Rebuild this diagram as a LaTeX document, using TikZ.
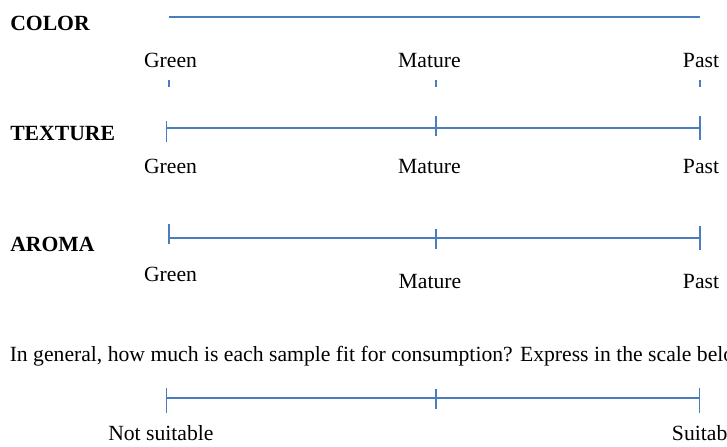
\documentclass[tikz,border=0pt]{standalone}
\usepackage{fontspec}
\setmainfont{Liberation Serif}
\usepackage{tikz}
\definecolor{scaleblue}{RGB}{74,125,190}

\begin{document}
\begin{tikzpicture}[x=0.75pt,y=-0.75pt]
	\tikzstyle{LabelStyle}=[inner sep=0pt,anchor=base,font=\fontsize{16.25}{19}\selectfont]
	\tikzstyle{HeadStyle}=[LabelStyle,anchor=base west,font=\fontsize{16.25}{19}\selectfont\bfseries]
	\tikzstyle{ScaleStyle}=[draw=scaleblue,line width=1.3pt]
	\tikzstyle{TickStyle}=[draw=scaleblue,line width=0.9pt]
	\useasboundingbox (0,0) rectangle (727,446);
	\clip (0,0) rectangle (727,446);

	% color
	\node[HeadStyle] (colHead) at (10,31) {COLOR};
	\coordinate (colL) at (169,17);
	\coordinate (colR) at (700,17);
	\draw[ScaleStyle] (colL) -- (colR);
	\node[LabelStyle] (colG) at (170.5,67) {Green};
	\node[LabelStyle] (colM) at (429.5,67) {Mature};
	\node[LabelStyle] (colP) at (701,67) {Past};
	\coordinate (colGt) at (169,80);  \coordinate (colGb) at (169,87);
	\coordinate (colMt) at (436,80);  \coordinate (colMb) at (436,87);
	\coordinate (colPt) at (700,80);  \coordinate (colPb) at (700,87);
	\draw[TickStyle] (colGt) -- (colGb);
	\draw[TickStyle] (colMt) -- (colMb);
	\draw[TickStyle] (colPt) -- (colPb);

	% texture
	\node[HeadStyle] (texHead) at (10,140) {TEXTURE};
	\coordinate (texL) at (166.5,128);
	\coordinate (texR) at (700,128);
	\draw[ScaleStyle] (texL) -- (texR);
	\coordinate (texLt) at (166.5,121);  \coordinate (texLb) at (166.5,142);
	\coordinate (texMt) at (436,116);    \coordinate (texMb) at (436,136);
	\coordinate (texRt) at (700,116);    \coordinate (texRb) at (700,140);
	\draw[TickStyle] (texLt) -- (texLb);
	\draw[TickStyle] (texMt) -- (texMb);
	\draw[TickStyle] (texRt) -- (texRb);
	\node[LabelStyle] (texG) at (170.5,173) {Green};
	\node[LabelStyle] (texM) at (429.5,173) {Mature};
	\node[LabelStyle] (texP) at (701,173) {Past};

	% aroma
	\node[HeadStyle] (aroHead) at (10,251) {AROMA};
	\coordinate (aroL) at (169,238);
	\coordinate (aroR) at (700,238);
	\draw[ScaleStyle] (aroL) -- (aroR);
	\coordinate (aroLt) at (169,224);  \coordinate (aroLb) at (169,244);
	\coordinate (aroMt) at (436,229);  \coordinate (aroMb) at (436,249);
	\coordinate (aroRt) at (700,226);  \coordinate (aroRb) at (700,250);
	\draw[TickStyle] (aroLt) -- (aroLb);
	\draw[TickStyle] (aroMt) -- (aroMb);
	\draw[TickStyle] (aroRt) -- (aroRb);
	\node[LabelStyle] (aroG) at (170.5,281) {Green};
	\node[LabelStyle] (aroM) at (430,288) {Mature};
	\node[LabelStyle] (aroP) at (701,288) {Past};

	% consumption
	\node[LabelStyle,anchor=base west] (question) at (9.5,361)
		{In general, how much is each sample fit for consumption? Express in the scale below};
	\coordinate (fitL) at (166.3,398);
	\coordinate (fitR) at (699.3,398);
	\draw[ScaleStyle] (fitL) -- (fitR);
	\coordinate (fitLt) at (166.3,388);  \coordinate (fitLb) at (166.3,413);
	\coordinate (fitMt) at (436,389);    \coordinate (fitMb) at (436,409);
	\coordinate (fitRt) at (699.3,388);  \coordinate (fitRb) at (699.3,413);
	\draw[TickStyle] (fitLt) -- (fitLb);
	\draw[TickStyle] (fitMt) -- (fitMb);
	\draw[TickStyle] (fitRt) -- (fitRb);
	\node[LabelStyle,anchor=base west] (fitNo) at (108,440) {Not suitable};
	\node[LabelStyle,anchor=base west] (fitYes) at (671.7,440) {Suitable};
\end{tikzpicture}
\end{document}
